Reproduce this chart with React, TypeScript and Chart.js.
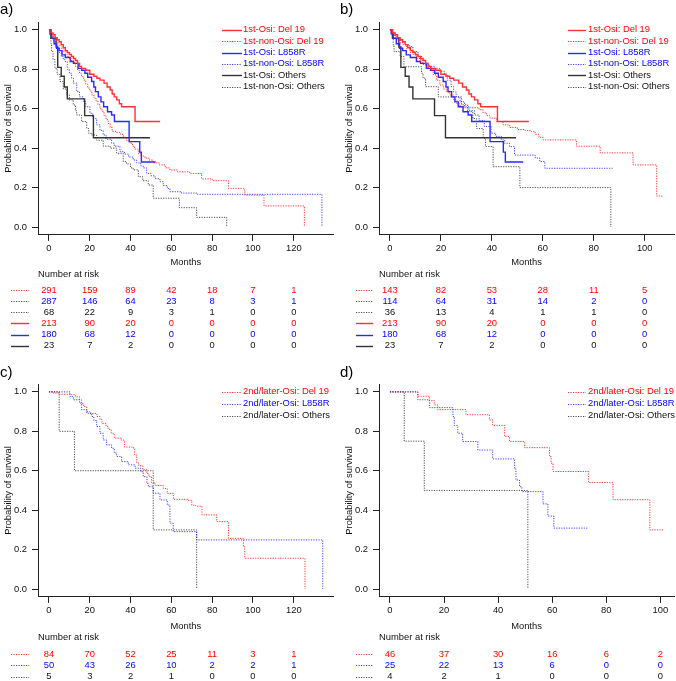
import React, { useEffect, useRef } from 'react';
import { Chart, registerables } from 'chart.js';

Chart.register(...registerables);

type Pt = [number, number];

// ---------- Data (months, survival probability) ----------
// 1st-line osimertinib (shared by panels a and b)
const osiDel19: Pt[] = [[0,1],[1,0.985],[2,0.975],[3,0.96],[4,0.95],[5,0.94],[6,0.925],[7,0.91],[8,0.895],[9,0.885],[10,0.875],[11,0.865],[12,0.855],[13,0.845],[14,0.83],[15,0.815],[16,0.805],[18,0.795],[20,0.775],[22,0.765],[23.5,0.755],[25,0.745],[27,0.73],[28.5,0.71],[30,0.695],[31,0.675],[32,0.66],[33.2,0.645],[34.5,0.625],[35.6,0.61],[42.2,0.535],[54.5,0.535]];
const osiL858R: Pt[] = [[0,1],[0.5,0.98],[1.3,0.958],[2.5,0.93],[3.8,0.907],[5,0.895],[6.4,0.873],[8,0.86],[10.4,0.84],[12,0.83],[14.3,0.805],[16,0.795],[17.6,0.78],[19,0.76],[20.9,0.738],[22,0.71],[22.8,0.687],[24.2,0.66],[25.5,0.635],[26.8,0.61],[28.7,0.585],[30.7,0.568],[32.1,0.535],[39.3,0.433],[44.5,0.38],[45.3,0.33],[52.3,0.33]];
const osiOthers: Pt[] = [[0,1],[1,0.957],[3.5,0.913],[4.3,0.81],[6,0.765],[7.5,0.71],[9,0.65],[17.5,0.565],[21.8,0.453],[49.5,0.453]];

// Panel a: 1st-line non-osimertinib
const aNonOsiDel19: Pt[] = [[0,1],[1,0.98],[2,0.965],[3,0.95],[4,0.935],[5,0.92],[6,0.905],[7,0.89],[8,0.875],[9,0.865],[10,0.855],[11,0.845],[12,0.835],[13,0.815],[14,0.795],[15,0.78],[16,0.763],[17,0.745],[18,0.725],[19,0.705],[20,0.69],[21,0.67],[22,0.655],[23,0.64],[24,0.62],[25,0.6],[26,0.585],[27,0.565],[28,0.545],[29,0.525],[30,0.505],[31,0.485],[33,0.48],[35,0.47],[36.5,0.455],[38,0.44],[39.7,0.425],[41,0.41],[42,0.395],[43.8,0.374],[45,0.36],[47,0.35],[49,0.34],[51,0.326],[54,0.315],[57,0.3],[59.3,0.289],[63,0.28],[69,0.272],[74.8,0.244],[80,0.235],[88,0.196],[95.3,0.188],[96,0.162],[105.4,0.107],[125.2,0]];
const aNonOsiL858R: Pt[] = [[0,1],[1,0.97],[2,0.945],[3,0.925],[3.8,0.907],[5,0.885],[6,0.865],[7,0.85],[7.8,0.839],[9,0.8],[10,0.78],[11.1,0.755],[12,0.73],[13.6,0.687],[15,0.66],[16.8,0.636],[18,0.61],[20.1,0.577],[21.5,0.55],[23.4,0.518],[25,0.49],[26.6,0.467],[28,0.445],[30.7,0.425],[32,0.41],[34.8,0.382],[37,0.37],[39,0.355],[41.3,0.34],[43,0.325],[45,0.31],[46.2,0.3],[47.9,0.272],[50,0.26],[52,0.245],[54.4,0.23],[56,0.21],[58,0.195],[59.3,0.179],[65,0.172],[72.8,0.166],[133.8,0]];
const aNonOsiOthers: Pt[] = [[0,1],[0.5,0.97],[1,0.93],[1.3,0.89],[2,0.85],[2.9,0.805],[4,0.775],[5.4,0.738],[7,0.7],[8.7,0.67],[10,0.645],[11.9,0.619],[13,0.59],[13.6,0.568],[16,0.535],[18.5,0.5],[19.5,0.475],[20.9,0.467],[23.4,0.44],[26.6,0.41],[30,0.4],[33.2,0.374],[36.4,0.332],[38,0.32],[40,0.3],[41.3,0.29],[43.8,0.255],[46,0.235],[48.7,0.213],[51.1,0.146],[63.9,0.098],[72.4,0.049],[87.1,0]];

// Panel b: 1st-line non-osimertinib (subset)
const bNonOsiDel19: Pt[] = [[0,1],[1,0.98],[2,0.965],[3,0.95],[4,0.935],[5.2,0.924],[6.5,0.905],[8,0.885],[9.1,0.873],[10.5,0.855],[12,0.835],[13.1,0.822],[14.5,0.81],[15.5,0.795],[17,0.772],[18.3,0.745],[19.6,0.72],[21,0.7],[22.3,0.685],[23.5,0.67],[25,0.645],[26.3,0.625],[27.5,0.61],[29,0.605],[35,0.595],[36.5,0.58],[38,0.565],[39.2,0.552],[41.8,0.535],[44.4,0.518],[47,0.505],[50,0.495],[53,0.49],[55,0.484],[57,0.47],[58.5,0.455],[60.1,0.442],[73.2,0.41],[82.5,0.376],[95.4,0.315],[104.7,0.157],[107.2,0.157]];
const bNonOsiL858R: Pt[] = [[0,1],[1,0.985],[2,0.97],[3,0.955],[4,0.945],[5,0.935],[6,0.925],[7.7,0.915],[9,0.89],[11,0.865],[12.5,0.845],[14,0.825],[15.5,0.815],[17.5,0.805],[19.5,0.79],[21.4,0.772],[22.5,0.745],[24,0.712],[25,0.685],[26,0.66],[27.5,0.635],[29.3,0.61],[31,0.59],[33.2,0.568],[35,0.54],[37,0.51],[39.7,0.476],[41.5,0.46],[43.7,0.442],[45,0.425],[46.9,0.408],[48.9,0.365],[57,0.35],[58.8,0.332],[60.8,0.298],[87.4,0.298]];
const bNonOsiOthers: Pt[] = [[0,1],[0.8,0.97],[1.3,0.92],[1.6,0.89],[4,0.865],[5.5,0.813],[12.4,0.78],[13,0.755],[14,0.712],[19,0.66],[28.1,0.62],[30.5,0.585],[32.5,0.55],[34,0.5],[36.6,0.45],[37.5,0.408],[40.5,0.306],[51,0.2],[86.7,0]];

// Panel c: 2nd/later-line osimertinib
const cDel19: Pt[] = [[0,1],[2,0.994],[5,0.988],[11,0.985],[13,0.975],[15,0.96],[16,0.94],[17,0.925],[18.5,0.9],[20,0.89],[23.5,0.875],[25,0.86],[26,0.84],[28,0.825],[29,0.81],[30.5,0.79],[32,0.765],[35.5,0.755],[37,0.72],[41.5,0.71],[42,0.68],[43,0.64],[44,0.625],[46,0.605],[48,0.585],[49,0.57],[50.3,0.54],[52,0.525],[56,0.51],[58,0.485],[61,0.455],[68,0.45],[70,0.425],[72,0.42],[75,0.376],[82.2,0.342],[88,0.257],[95.3,0.215],[96,0.156],[125.5,0]];
const cL858R: Pt[] = [[0,1],[10.3,0.976],[12,0.96],[15,0.943],[16,0.909],[18.5,0.892],[21,0.875],[22,0.855],[23.4,0.824],[25,0.79],[26.6,0.756],[28.3,0.731],[30.7,0.714],[32,0.69],[33.2,0.672],[35.6,0.646],[38.9,0.63],[42.2,0.613],[45,0.595],[46.2,0.57],[48,0.535],[48.7,0.519],[51.1,0.486],[54.4,0.452],[58,0.426],[59.3,0.334],[60.9,0.291],[72.4,0.249],[134.2,0]];
const cOthers: Pt[] = [[0,1],[5,0.8],[12.5,0.6],[51.1,0.3],[72.4,0]];

// Panel d: 2nd/later-line osimertinib (subset)
const dDel19: Pt[] = [[0,1],[10.3,0.978],[14.6,0.956],[16.4,0.934],[17.7,0.91],[28.1,0.884],[36.8,0.858],[38,0.83],[42.4,0.774],[44.2,0.748],[49.8,0.717],[59,0.672],[59.6,0.638],[60.3,0.596],[73.4,0.54],[82.5,0.453],[96.1,0.3],[101,0.3]];
const dL858R: Pt[] = [[0,1],[10.3,0.96],[14.6,0.92],[23.3,0.875],[23.8,0.83],[25.1,0.79],[26.9,0.748],[32.5,0.705],[38,0.66],[46.1,0.61],[46.6,0.553],[47.9,0.519],[48.8,0.494],[56.6,0.432],[58.4,0.37],[60.6,0.309],[73,0.309]];
const dOthers: Pt[] = [[0,1],[5.3,0.75],[12.7,0.5],[51,0]];

// Tick labels
const ticksLong = [0, 20, 40, 60, 80, 100, 120];
const ticksShort = [0, 20, 40, 60, 80, 100];
const yTicks = [0, 0.2, 0.4, 0.6, 0.8, 1.0];

// Number at risk
const riskA_nonOsiDel19 = [291, 159, 89, 42, 18, 7, 1];
const riskA_nonOsiL858R = [287, 146, 64, 23, 8, 3, 1];
const riskA_nonOsiOthers = [68, 22, 9, 3, 1, 0, 0];
const riskA_osiDel19 = [213, 90, 20, 0, 0, 0, 0];
const riskA_osiL858R = [180, 68, 12, 0, 0, 0, 0];
const riskA_osiOthers = [23, 7, 2, 0, 0, 0, 0];

const riskB_nonOsiDel19 = [143, 82, 53, 28, 11, 5];
const riskB_nonOsiL858R = [114, 64, 31, 14, 2, 0];
const riskB_nonOsiOthers = [36, 13, 4, 1, 1, 0];
const riskB_osiDel19 = [213, 90, 20, 0, 0, 0];
const riskB_osiL858R = [180, 68, 12, 0, 0, 0];
const riskB_osiOthers = [23, 7, 2, 0, 0, 0];

const riskC_Del19 = [84, 70, 52, 25, 11, 3, 1];
const riskC_L858R = [50, 43, 26, 10, 2, 2, 1];
const riskC_Others = [5, 3, 2, 1, 0, 0, 0];

const riskD_Del19 = [46, 37, 30, 16, 6, 2];
const riskD_L858R = [25, 22, 13, 6, 0, 0];
const riskD_Others = [4, 2, 1, 0, 0, 0];

// ---------- Styling ----------
const FONT = '"Liberation Sans", Arial, Helvetica, sans-serif';
const FS = 9.4;
const RED = '#ff0000';
const BLUE = '#0000ff';
const BLACK = '#000000';
const TXT = '#111111';
const LINE_SOLID: Record<string, string> = { [RED]: '#ff3030', [BLUE]: '#2a2aff', [BLACK]: '#333333' };
const LINE_DOT: Record<string, string> = { [RED]: 'rgba(255,0,0,0.8)', [BLUE]: 'rgba(0,0,255,0.75)', [BLACK]: 'rgba(0,0,0,0.7)' };

interface Series { label: string; data: Pt[]; color: string; dotted: boolean; }
interface RiskRow { values: number[]; color: string; dotted: boolean; }
interface PanelCfg {
  tag: string; tagX: number; tagY: number;
  left: number; top: number; width: number; height: number;
  padLeft: number; padRight: number; xAxisH: number;
  xMin: number; xMax: number; xTicks: number[];
  series: Series[]; risk: RiskRow[];
  legX0: number; legX1: number; legTextX: number; legY0: number; legDy: number;
  riskX0: number; riskX1: number; riskTitleY: number; riskY0: number; riskDy: number;
}

const S = (label: string, data: Pt[], color: string, dotted: boolean): Series => ({ label, data, color, dotted });
const R = (values: number[], color: string, dotted: boolean): RiskRow => ({ values, color, dotted });

const panels: PanelCfg[] = [
  {
    tag: 'a)', tagX: 0, tagY: 13.5, left: 0, top: 0, width: 338, height: 362,
    padLeft: 0, padRight: 4.3, xAxisH: 33.4, xMin: -5.37, xMax: 139.57, xTicks: ticksLong,
    series: [
      S('1st-Osi: Del 19', osiDel19, RED, false),
      S('1st-non-Osi: Del 19', aNonOsiDel19, RED, true),
      S('1st-Osi: L858R', osiL858R, BLUE, false),
      S('1st-non-Osi: L858R', aNonOsiL858R, BLUE, true),
      S('1st-Osi: Others', osiOthers, BLACK, false),
      S('1st-non-Osi: Others', aNonOsiOthers, BLACK, true),
    ],
    risk: [
      R(riskA_nonOsiDel19, RED, true), R(riskA_nonOsiL858R, BLUE, true), R(riskA_nonOsiOthers, BLACK, true),
      R(riskA_osiDel19, RED, false), R(riskA_osiL858R, BLUE, false), R(riskA_osiOthers, BLACK, false),
    ],
    legX0: 222, legX1: 242, legTextX: 243, legY0: 29.7, legDy: 11.4,
    riskX0: 11, riskX1: 29, riskTitleY: 274, riskY0: 290, riskDy: 11.15,
  },
  {
    tag: 'b)', tagX: 2, tagY: 13.5, left: 338, top: 0, width: 338, height: 362,
    padLeft: 3, padRight: 2, xAxisH: 33.4, xMin: -4.29, xMax: 111.49, xTicks: ticksShort,
    series: [
      S('1st-Osi: Del 19', osiDel19, RED, false),
      S('1st-non-Osi: Del 19', bNonOsiDel19, RED, true),
      S('1st-Osi: L858R', osiL858R, BLUE, false),
      S('1st-non-Osi: L858R', bNonOsiL858R, BLUE, true),
      S('1st-Osi: Others', osiOthers, BLACK, false),
      S('1st-non-Osi: Others', bNonOsiOthers, BLACK, true),
    ],
    risk: [
      R(riskB_nonOsiDel19, RED, true), R(riskB_nonOsiL858R, BLUE, true), R(riskB_nonOsiOthers, BLACK, true),
      R(riskB_osiDel19, RED, false), R(riskB_osiL858R, BLUE, false), R(riskB_osiOthers, BLACK, false),
    ],
    legX0: 230, legX1: 248, legTextX: 250, legY0: 29.7, legDy: 11.4,
    riskX0: 18, riskX1: 35, riskTitleY: 274, riskY0: 290, riskDy: 11.15,
  },
  {
    tag: 'c)', tagX: 0, tagY: 14.5, left: 0, top: 362, width: 338, height: 319,
    padLeft: 0, padRight: 4.3, xAxisH: 34.7, xMin: -5.37, xMax: 139.57, xTicks: ticksLong,
    series: [
      S('2nd/later-Osi: Del 19', cDel19, RED, true),
      S('2nd/later-Osi: L858R', cL858R, BLUE, true),
      S('2nd/later-Osi: Others', cOthers, BLACK, true),
    ],
    risk: [R(riskC_Del19, RED, true), R(riskC_L858R, BLUE, true), R(riskC_Others, BLACK, true)],
    legX0: 222, legX1: 242, legTextX: 243, legY0: 29.7, legDy: 12,
    riskX0: 11, riskX1: 29, riskTitleY: 275.3, riskY0: 292, riskDy: 11.3,
  },
  {
    tag: 'd)', tagX: 2, tagY: 14.5, left: 338, top: 362, width: 338, height: 319,
    padLeft: 3, padRight: 2, xAxisH: 34.7, xMin: -4.04, xMax: 105.04, xTicks: ticksShort,
    series: [
      S('2nd/later-Osi: Del 19', dDel19, RED, true),
      S('2nd/later-Osi: L858R', dL858R, BLUE, true),
      S('2nd/later-Osi: Others', dOthers, BLACK, true),
    ],
    risk: [R(riskD_Del19, RED, true), R(riskD_L858R, BLUE, true), R(riskD_Others, BLACK, true)],
    legX0: 230, legX1: 248, legTextX: 250, legY0: 29.7, legDy: 12,
    riskX0: 18, riskX1: 35, riskTitleY: 275.3, riskY0: 292, riskDy: 11.3,
  },
];

const DOT = [1.2, 1.3];

function seg(ctx: CanvasRenderingContext2D, x0: number, x1: number, y: number, color: string, dotted: boolean) {
  ctx.save();
  ctx.strokeStyle = dotted ? LINE_DOT[color] : LINE_SOLID[color];
  ctx.lineWidth = dotted ? 1 : 1.4;
  ctx.setLineDash(dotted ? DOT : []);
  ctx.beginPath();
  ctx.moveTo(x0, Math.round(y) + 0.5);
  ctx.lineTo(x1, Math.round(y) + 0.5);
  ctx.stroke();
  ctx.restore();
}

function makeExtras(p: PanelCfg) {
  return {
    id: 'panelExtras',
    afterDraw(chart: any) {
      const ctx: CanvasRenderingContext2D = chart.ctx;
      const xs = chart.scales.x;
      const area = chart.chartArea;
      ctx.save();
      // panel tag
      ctx.fillStyle = '#000';
      ctx.font = `15px ${FONT}`;
      ctx.textAlign = 'left';
      ctx.textBaseline = 'alphabetic';
      ctx.fillText(p.tag, p.tagX, p.tagY);
      // legend
      ctx.font = `${FS}px ${FONT}`;
      ctx.textBaseline = 'middle';
      chart.data.datasets.forEach((ds: any, i: number) => {
        const s = p.series[i];
        const y = p.legY0 + i * p.legDy;
        seg(ctx, p.legX0, p.legX1, y, s.color, s.dotted);
        ctx.fillStyle = s.color === BLACK ? TXT : s.color;
        ctx.textAlign = 'left';
        ctx.fillText(ds.label, p.legTextX, y);
      });
      // risk table
      ctx.fillStyle = TXT;
      ctx.textAlign = 'left';
      ctx.fillText('Number at risk', area.left, p.riskTitleY);
      p.risk.forEach((r, i) => {
        const y = p.riskY0 + i * p.riskDy;
        seg(ctx, p.riskX0, p.riskX1, y, r.color, r.dotted);
        ctx.fillStyle = r.color === BLACK ? TXT : r.color;
        ctx.textAlign = 'center';
        r.values.forEach((v, j) => {
          ctx.fillText(String(v), xs.getPixelForValue(p.xTicks[j]), y);
        });
      });
      ctx.restore();
    },
  };
}

function Panel({ cfg }: { cfg: PanelCfg }) {
  const ref = useRef<HTMLCanvasElement>(null);
  useEffect(() => {
    const canvas = ref.current;
    if (!canvas) return;
    const font = { family: FONT, size: FS };
    const chart = new Chart(canvas, {
      type: 'line',
      data: {
        datasets: cfg.series.map((s) => ({
          label: s.label,
          data: s.data.map(([x, y]) => ({ x, y })),
          borderColor: s.dotted ? LINE_DOT[s.color] : LINE_SOLID[s.color],
          backgroundColor: s.color,
          borderWidth: s.dotted ? 1 : 1.4,
          borderDash: s.dotted ? DOT : [],
          stepped: 'before',
          pointRadius: 0,
          pointHoverRadius: 0,
          fill: false,
          tension: 0,
        })),
      },
      options: {
        responsive: false,
        animation: false,
        events: [],
        layout: {
          padding: { left: cfg.padLeft, right: cfg.padRight, top: 22, bottom: cfg.height - 234.9 - cfg.xAxisH },
        },
        plugins: { legend: { display: false }, tooltip: { enabled: false } },
        scales: {
          x: {
            type: 'linear',
            min: cfg.xMin,
            max: cfg.xMax,
            afterBuildTicks: (s: any) => { s.ticks = cfg.xTicks.map((v) => ({ value: v })); },
            afterFit: (s: any) => { s.height = cfg.xAxisH; },
            grid: { drawOnChartArea: false, drawTicks: true, tickLength: 6, color: '#222', lineWidth: 1 },
            border: { display: true, color: '#222', width: 1 },
            ticks: { autoSkip: false, maxRotation: 0, minRotation: 0, padding: 2, color: TXT, font, callback: (v: any) => String(v) },
            title: { display: true, text: 'Months', color: TXT, font, padding: { top: 0, bottom: 0 } },
          },
          y: {
            type: 'linear',
            min: -0.04,
            max: 1.04,
            afterBuildTicks: (s: any) => { s.ticks = yTicks.map((v) => ({ value: v })); },
            afterFit: (s: any) => { s.width = 38; },
            grid: { drawOnChartArea: false, drawTicks: true, tickLength: 6, color: '#222', lineWidth: 1 },
            border: { display: true, color: '#222', width: 1 },
            ticks: { autoSkip: false, padding: 5, color: TXT, font, callback: (v: any) => Number(v).toFixed(1) },
            title: { display: true, text: 'Probability of survival', color: TXT, font, padding: { top: 3, bottom: 0 } },
          },
        },
      } as any,
      plugins: [makeExtras(cfg)],
    });
    return () => chart.destroy();
  }, [cfg]);
  return (
    <canvas
      ref={ref}
      width={cfg.width}
      height={cfg.height}
      style={{ position: 'absolute', left: cfg.left, top: cfg.top, width: cfg.width, height: cfg.height }}
    />
  );
}

export default function App() {
  return (
    <div style={{ position: 'absolute', left: 0, top: 0, width: 676, height: 681, background: '#fff', overflow: 'hidden' }}>
      {panels.map((p) => (
        <Panel key={p.tag} cfg={p} />
      ))}
    </div>
  );
}
